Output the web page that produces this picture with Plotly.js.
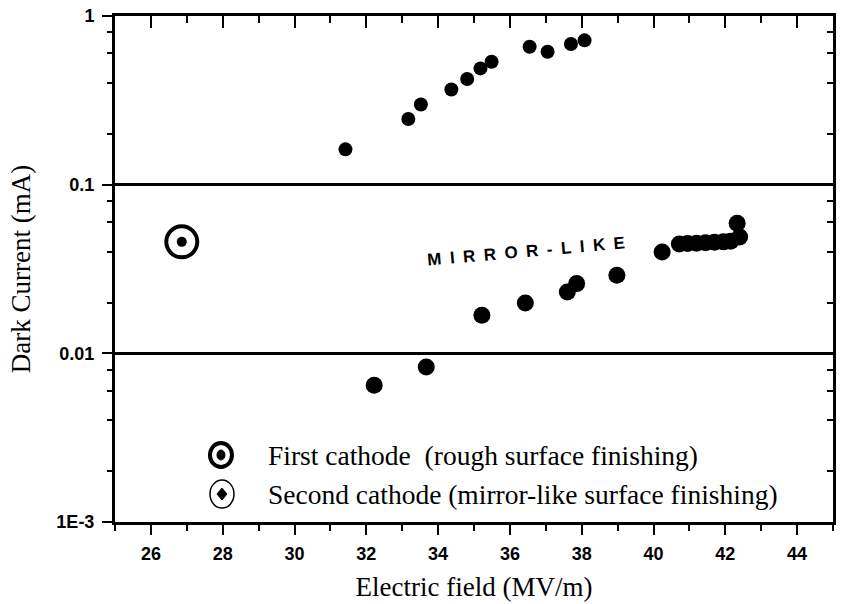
<!DOCTYPE html>
<html>
<head>
<meta charset="utf-8">
<script src="https://cdn.plot.ly/plotly-3.0.1.min.js"></script>
<style>
  html, body { margin: 0; padding: 0; background: #fff; }
  #chart { width: 841px; height: 604px; }
</style>
</head>
<body>
<div id="chart"></div>
<script>
// First cathode (rough surface finishing)
const roughField = [31.42, 33.17, 33.52, 34.37, 34.81, 35.18, 35.49, 36.55, 37.05, 37.70, 38.08];
const roughCurrent = [0.162, 0.245, 0.299, 0.367, 0.423, 0.489, 0.535, 0.657, 0.614, 0.682, 0.717];

// Second cathode (mirror-like surface finishing)
const mirrorField = [32.22, 33.67, 35.22, 36.43, 37.60, 37.86, 38.98, 40.24, 40.72, 40.95, 41.20, 41.45, 41.70, 41.95, 42.15, 42.40, 42.33];
const mirrorCurrent = [0.00646, 0.0083, 0.0168, 0.0199, 0.0231, 0.0259, 0.0290, 0.0399, 0.0445, 0.0448, 0.0450, 0.0452, 0.0455, 0.0458, 0.0462, 0.0490, 0.0590];

// Isolated circled point at the left
const strayField = [26.86];
const strayCurrent = [0.0458];

// Axis ticks
const xTicks = [26, 28, 30, 32, 34, 36, 38, 40, 42, 44];
const xTickLabels = ['26', '28', '30', '32', '34', '36', '38', '40', '42', '44'];
const yTicks = [0.001, 0.01, 0.1, 1];
const yTickLabels = ['1E-3', '0.01', '0.1', '1'];
const yMinorTicks = [0.002, 0.004, 0.006, 0.008, 0.02, 0.04, 0.06, 0.08, 0.2, 0.4, 0.6, 0.8];

const legendLabels = ['First cathode  (rough surface finishing)', 'Second cathode (mirror-like surface finishing)'];
const noteText = 'M\u2002I\u2002R\u2002R\u2002O\u2002R\u2002-\u2002L\u2002I\u2002K\u2002E';

const traces = [
  {
    x: roughField, y: roughCurrent, type: 'scatter', mode: 'markers',
    name: legendLabels[0], showlegend: false,
    marker: { color: '#000', size: 14, symbol: 'circle' }
  },
  {
    x: mirrorField, y: mirrorCurrent, type: 'scatter', mode: 'markers',
    name: legendLabels[1], showlegend: false,
    marker: { color: '#000', size: 17, symbol: 'circle' }
  },
  {
    x: strayField, y: strayCurrent, type: 'scatter', mode: 'markers',
    showlegend: false, hoverinfo: 'skip',
    marker: { color: 'rgba(0,0,0,0)', size: 31, symbol: 'circle', line: { color: '#000', width: 4 } }
  },
  {
    x: strayField, y: strayCurrent, type: 'scatter', mode: 'markers',
    showlegend: false,
    marker: { color: '#000', size: 10, symbol: 'circle' }
  },
  {
    // carries the mirrored top/right axes (same point, not visible)
    x: strayField, y: strayCurrent, xaxis: 'x2', yaxis: 'y2', type: 'scatter', mode: 'markers',
    showlegend: false, hoverinfo: 'skip',
    marker: { color: 'rgba(0,0,0,0)', size: 1 }
  }
];

const tickFont = { family: 'Liberation Sans, Arial, sans-serif', size: 18, color: '#000', weight: 700 };
const titleFont = { family: 'Liberation Serif, Times New Roman, serif', size: 27, color: '#000' };

const layout = {
  width: 841, height: 604,
  paper_bgcolor: '#fff', plot_bgcolor: '#fff',
  margin: { l: 115, r: 8, t: 16, b: 82 },
  showlegend: false,
  xaxis: {
    range: [25, 45], tickmode: 'array', tickvals: xTicks, ticktext: xTickLabels,
    showline: true, linecolor: '#000', linewidth: 3,
    ticks: 'outside', ticklen: 10, tickwidth: 2, tickcolor: '#000',
    minor: { ticks: 'outside', dtick: 1, tick0: 25, ticklen: 6, tickwidth: 2, tickcolor: '#000' },
    showgrid: false, zeroline: false,
    tickfont: tickFont, ticklabelstandoff: 3,
    title: { text: 'Electric field (MV/m)', font: titleFont, standoff: 15 }
  },
  xaxis2: {
    overlaying: 'x', side: 'top', anchor: 'y2', matches: 'x',
    range: [25, 45], tickmode: 'array', tickvals: xTicks,
    showline: true, linecolor: '#000', linewidth: 3,
    ticks: 'inside', ticklen: 12, tickwidth: 2, tickcolor: '#000',
    minor: { ticks: 'inside', dtick: 1, tick0: 25, ticklen: 7, tickwidth: 2, tickcolor: '#000' },
    showticklabels: false, showgrid: false, zeroline: false
  },
  yaxis: {
    type: 'log', range: [-3, 0], tickmode: 'array', tickvals: yTicks, ticktext: yTickLabels,
    showline: true, linecolor: '#000', linewidth: 3,
    ticks: 'outside', ticklen: 10, tickwidth: 2, tickcolor: '#000',
    minor: { ticks: 'outside', tickmode: 'array', tickvals: yMinorTicks, ticklen: 5, tickwidth: 2, tickcolor: '#000' },
    showgrid: true, gridcolor: '#000', gridwidth: 2.5, zeroline: false,
    tickfont: tickFont, ticklabelstandoff: 4,
    title: { text: 'Dark Current (mA)', font: titleFont, standoff: 18 }
  },
  yaxis2: {
    overlaying: 'y', side: 'right', anchor: 'x2', matches: 'y',
    type: 'log', range: [-3, 0], tickmode: 'array', tickvals: yTicks,
    showline: true, linecolor: '#000', linewidth: 3,
    ticks: 'inside', ticklen: 6, tickwidth: 2, tickcolor: '#000',
    minor: { ticks: 'inside', tickmode: 'array', tickvals: yMinorTicks, ticklen: 6, tickwidth: 2, tickcolor: '#000' },
    showticklabels: false, showgrid: false, zeroline: false
  },
  annotations: [
    {
      xref: 'paper', yref: 'paper', x: 0.2103, y: 0.1324, xanchor: 'left', yanchor: 'middle',
      text: legendLabels[0], showarrow: false,
      font: { family: 'Liberation Serif, Times New Roman, serif', size: 27.5, color: '#000' }
    },
    {
      xref: 'paper', yref: 'paper', x: 0.2103, y: 0.0553, xanchor: 'left', yanchor: 'middle',
      text: legendLabels[1], showarrow: false,
      font: { family: 'Liberation Serif, Times New Roman, serif', size: 27.5, color: '#000' }
    },
    {
      xref: 'paper', yref: 'paper', x: 0.572, y: 0.5336, xanchor: 'center', yanchor: 'middle',
      text: noteText, showarrow: false, textangle: -5,
      font: { family: 'Liberation Sans, Arial, sans-serif', size: 17, color: '#000', weight: 700 }
    }
  ],
  shapes: [
    { type: 'circle', xref: 'paper', yref: 'paper', xsizemode: 'pixel', ysizemode: 'pixel',
      xanchor: 0.1476, yanchor: 0.1324, x0: -11, x1: 11, y0: -12, y1: 12,
      line: { color: '#000', width: 4 }, fillcolor: 'rgba(0,0,0,0)' },
    { type: 'circle', xref: 'paper', yref: 'paper', xsizemode: 'pixel', ysizemode: 'pixel',
      xanchor: 0.1476, yanchor: 0.1324, x0: -4, x1: 4, y0: -5, y1: 5,
      line: { color: '#000', width: 1 }, fillcolor: '#000' },
    { type: 'circle', xref: 'paper', yref: 'paper', xsizemode: 'pixel', ysizemode: 'pixel',
      xanchor: 0.149, yanchor: 0.0553, x0: -12, x1: 12, y0: -14, y1: 14,
      line: { color: '#000', width: 1.5 }, fillcolor: 'rgba(0,0,0,0)' },
    { type: 'path', xref: 'paper', yref: 'paper', xsizemode: 'pixel', ysizemode: 'pixel',
      xanchor: 0.149, yanchor: 0.0553, path: 'M0,6 L5,0 L0,-6 L-5,0 Z',
      line: { color: '#000', width: 1 }, fillcolor: '#000' }
  ]
};

Plotly.newPlot('chart', traces, layout, { staticPlot: true, displayModeBar: false });
</script>
</body>
</html>
